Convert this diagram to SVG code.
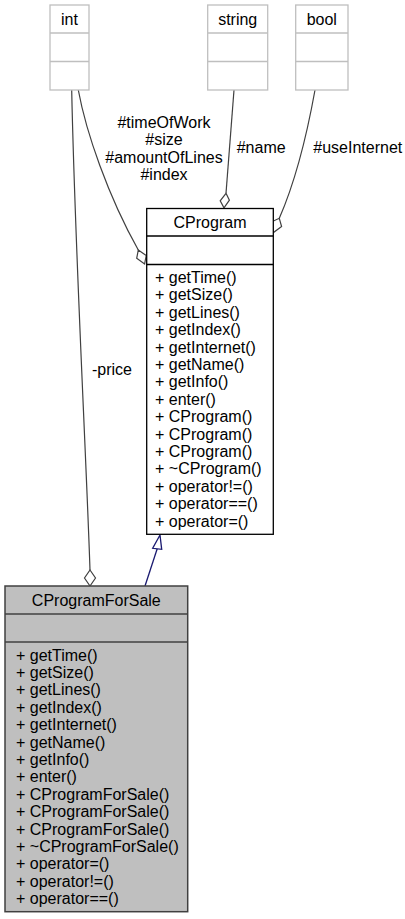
<svg xmlns="http://www.w3.org/2000/svg" width="405" height="919" viewBox="0 0 405 919">
  <style>
    text { font-family: "Liberation Sans", Arial, sans-serif; font-size: 16px; fill: #000; }
    .mid { text-anchor: middle; }
    .ext { fill: #fff; stroke: #bfbfbf; stroke-width: 1.3; }
    .cls { fill: #fff; stroke: #000; stroke-width: 1.3; }
    .cur { fill: #bfbfbf; stroke: #404040; stroke-width: 1.5; }
    .edge { fill: none; stroke: #404040; stroke-width: 1.2; }
    .dia { fill: #fff; stroke: #404040; stroke-width: 1.2; }
    .inh { fill: none; stroke: #191970; stroke-width: 1.3; }
    .tri { fill: #fff; stroke: #191970; stroke-width: 1.3; }
  </style>

  <!-- relations -->
  <g id="edges">
    <path class="edge" d="M71.7,90 C75,250 86,450 90,570"/>
    <polygon class="dia" points="90,570 95.5,578 90,586 84.5,578"/>

    <path class="edge" d="M78.3,90 C86,132 108,196 138.3,250"/>
    <polygon class="dia" points="138.3,250 146.2,255.5 144.6,264 136.7,258.3"/>

    <path class="edge" d="M234,90 L226,193.3"/>
    <polygon class="dia" points="226,193.3 229.4,200.2 224,207.8 220.2,200.8"/>

    <path class="edge" d="M315,90 C306,140 296,180 279.3,218.3"/>
    <polygon class="dia" points="279.3,218.3 281.6,226.6 273.4,232.6 271.8,221.8"/>

    <path class="inh" d="M145,586 L157.2,548.8"/>
    <polygon class="tri" points="160,535 152.7,548.3 161.7,549.3"/>

    <text x="112" y="375" class="mid">-price</text>
    <text x="164" y="128" class="mid">#timeOfWork</text>
    <text x="164" y="145.4" class="mid">#size</text>
    <text x="164" y="162.8" class="mid">#amountOfLines</text>
    <text x="164" y="180.2" class="mid">#index</text>
    <text x="236.7" y="153">#name</text>
    <text x="313.3" y="153">#useInternet</text>
  </g>

  <g id="int">
    <rect class="ext" x="50" y="5" width="39" height="85"/>
    <line class="ext" x1="50" y1="33" x2="89" y2="33"/>
    <line class="ext" x1="50" y1="61.5" x2="89" y2="61.5"/>
    <text x="69.5" y="24.5" class="mid">int</text>
  </g>

  <g id="string">
    <rect class="ext" x="207.7" y="5" width="60" height="85"/>
    <line class="ext" x1="207.7" y1="33" x2="267.7" y2="33"/>
    <line class="ext" x1="207.7" y1="61.5" x2="267.7" y2="61.5"/>
    <text x="237.7" y="24.5" class="mid">string</text>
  </g>

  <g id="bool">
    <rect class="ext" x="295.7" y="5" width="52.3" height="85"/>
    <line class="ext" x1="295.7" y1="33" x2="348" y2="33"/>
    <line class="ext" x1="295.7" y1="61.5" x2="348" y2="61.5"/>
    <text x="321.8" y="24.5" class="mid">bool</text>
  </g>

  <g id="CProgram">
    <rect class="cls" x="146.7" y="208.5" width="126.6" height="325.8"/>
    <line class="cls" x1="146.7" y1="236" x2="273.3" y2="236"/>
    <line class="cls" x1="146.7" y1="264.5" x2="273.3" y2="264.5"/>
    <text x="210" y="228" class="mid">CProgram</text>
    <text x="155" y="283">+ getTime()</text>
    <text x="155" y="300.4">+ getSize()</text>
    <text x="155" y="317.8">+ getLines()</text>
    <text x="155" y="335.2">+ getIndex()</text>
    <text x="155" y="352.6">+ getInternet()</text>
    <text x="155" y="370">+ getName()</text>
    <text x="155" y="387.4">+ getInfo()</text>
    <text x="155" y="404.8">+ enter()</text>
    <text x="155" y="422.2">+ CProgram()</text>
    <text x="155" y="439.6">+ CProgram()</text>
    <text x="155" y="457">+ CProgram()</text>
    <text x="155" y="474.4">+ ~CProgram()</text>
    <text x="155" y="491.8">+ operator!=()</text>
    <text x="155" y="509.2">+ operator==()</text>
    <text x="155" y="526.6">+ operator=()</text>
  </g>

  <g id="CProgramForSale">
    <rect class="cur" x="5" y="586" width="182.7" height="325.7"/>
    <line class="cur" x1="5" y1="614" x2="187.7" y2="614"/>
    <line class="cur" x1="5" y1="642" x2="187.7" y2="642"/>
    <text x="96.3" y="606" class="mid">CProgramForSale</text>
    <text x="16" y="660.5">+ getTime()</text>
    <text x="16" y="677.9">+ getSize()</text>
    <text x="16" y="695.3">+ getLines()</text>
    <text x="16" y="712.7">+ getIndex()</text>
    <text x="16" y="730.1">+ getInternet()</text>
    <text x="16" y="747.5">+ getName()</text>
    <text x="16" y="764.9">+ getInfo()</text>
    <text x="16" y="782.3">+ enter()</text>
    <text x="16" y="799.7">+ CProgramForSale()</text>
    <text x="16" y="817.1">+ CProgramForSale()</text>
    <text x="16" y="834.5">+ CProgramForSale()</text>
    <text x="16" y="851.9">+ ~CProgramForSale()</text>
    <text x="16" y="869.3">+ operator=()</text>
    <text x="16" y="886.7">+ operator!=()</text>
    <text x="16" y="904.1">+ operator==()</text>
  </g>
</svg>
